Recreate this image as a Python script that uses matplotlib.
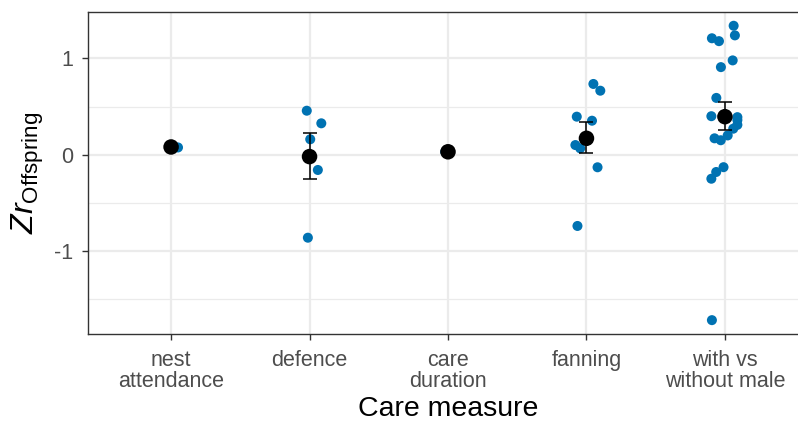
import matplotlib
matplotlib.use("Agg")
import matplotlib.pyplot as plt
import numpy as np

plt.rcParams['font.family'] = ['Liberation Sans', 'DejaVu Sans']
plt.rcParams['mathtext.fontset'] = 'custom'
plt.rcParams['mathtext.rm'] = 'Liberation Sans'
plt.rcParams['mathtext.it'] = 'Liberation Sans:italic'

categories = ["nest\nattendance", "defence", "care\nduration", "fanning", "with vs\nwithout male"]

# individual effect sizes per category (values) and horizontal jitter (category units)
nest_vals = [0.075]
nest_jit = [0.05]
defence_vals = [0.457, 0.326, 0.16, -0.159, -0.863]
defence_jit = [-0.02, 0.085, 0.005, 0.06, -0.012]
care_vals = [0.03]
care_jit = [-0.02]
fanning_vals = [0.735, 0.665, 0.395, 0.353, 0.10, 0.066, -0.131, -0.741]
fanning_jit = [0.05, 0.10, -0.07, 0.04, -0.08, -0.045, 0.08, -0.065]
male_vals = [1.34, 1.24, 1.21, 1.18, 0.98, 0.91, 0.59, 0.40, 0.39, 0.36, 0.31,
             0.27, 0.20, 0.17, 0.15, -0.13, -0.18, -0.25, -1.72]
male_jit = [0.063, 0.072, -0.094, -0.043, 0.056, -0.029, -0.062, -0.098, 0.09, 0.09,
            0.09, 0.06, 0.02, -0.075, -0.03, -0.01, -0.063, -0.098, -0.094]

# summary estimate and error range
means = [0.08, -0.02, 0.03, 0.17, 0.395]
lower = [np.nan, -0.253, np.nan, 0.015, 0.257]
upper = [np.nan, 0.222, np.nan, 0.343, 0.545]

yticks = [-1, 0, 1]
yticklabels = ["-1", "0", "1"]

W, H = 798, 423
fig = plt.figure(figsize=(W / 100, H / 100), dpi=100)
ax = fig.add_axes([88 / W, (H - 334) / H, (808 - 88) / W, (334 - 12) / H])

ax.set_xlim(-0.6, len(categories) - 0.4)
ax.set_ylim(-1.864, 1.483)

grid_c = "#EBEBEB"
for y in [-1.5, -0.5, 0.5]:
    ax.axhline(y, color=grid_c, lw=0.9, zorder=0)
for y in yticks:
    ax.axhline(y, color=grid_c, lw=1.6, zorder=0)
for i in range(len(categories)):
    ax.axvline(i, color=grid_c, lw=1.6, zorder=0)

blue = "#0072B2"
groups = [(nest_vals, nest_jit), (defence_vals, defence_jit), (care_vals, care_jit),
          (fanning_vals, fanning_jit), (male_vals, male_jit)]
for i, (vals, jit) in enumerate(groups):
    xs = i + np.array(jit)
    ax.scatter(xs, vals, s=52, color=blue, edgecolors='none', zorder=2)

xpos = np.arange(len(categories))
m = np.array(means)
lo = np.array(lower)
hi = np.array(upper)
has = ~np.isnan(lo)
ax.errorbar(xpos[has], m[has], yerr=[m[has] - lo[has], hi[has] - m[has]],
            fmt='none', ecolor='black', elinewidth=1.1, capsize=5, capthick=1.1, zorder=3)
ax.scatter(xpos, m, s=125, color='black', edgecolors='none', zorder=4)

ax.set_xticks(xpos)
ax.set_xticklabels(categories, fontsize=15.5, color="#4D4D4D", linespacing=1.0)
ax.set_yticks(yticks)
ax.set_yticklabels(yticklabels, fontsize=15.5, color="#4D4D4D")
ax.tick_params(axis='both', length=4.5, width=1, color="#333333")
ax.tick_params(axis='x', pad=7)
ax.tick_params(axis='y', pad=6)

for s in ax.spines.values():
    s.set_color("#333333")
    s.set_linewidth(1)

ax.set_xlabel("Care measure", fontsize=20.5, color="black", labelpad=3)
ax.set_ylabel(r"$Zr_{\mathrm{Offspring}}$", fontsize=23, color="black", labelpad=6)

fig.savefig("out.png", dpi=100)
